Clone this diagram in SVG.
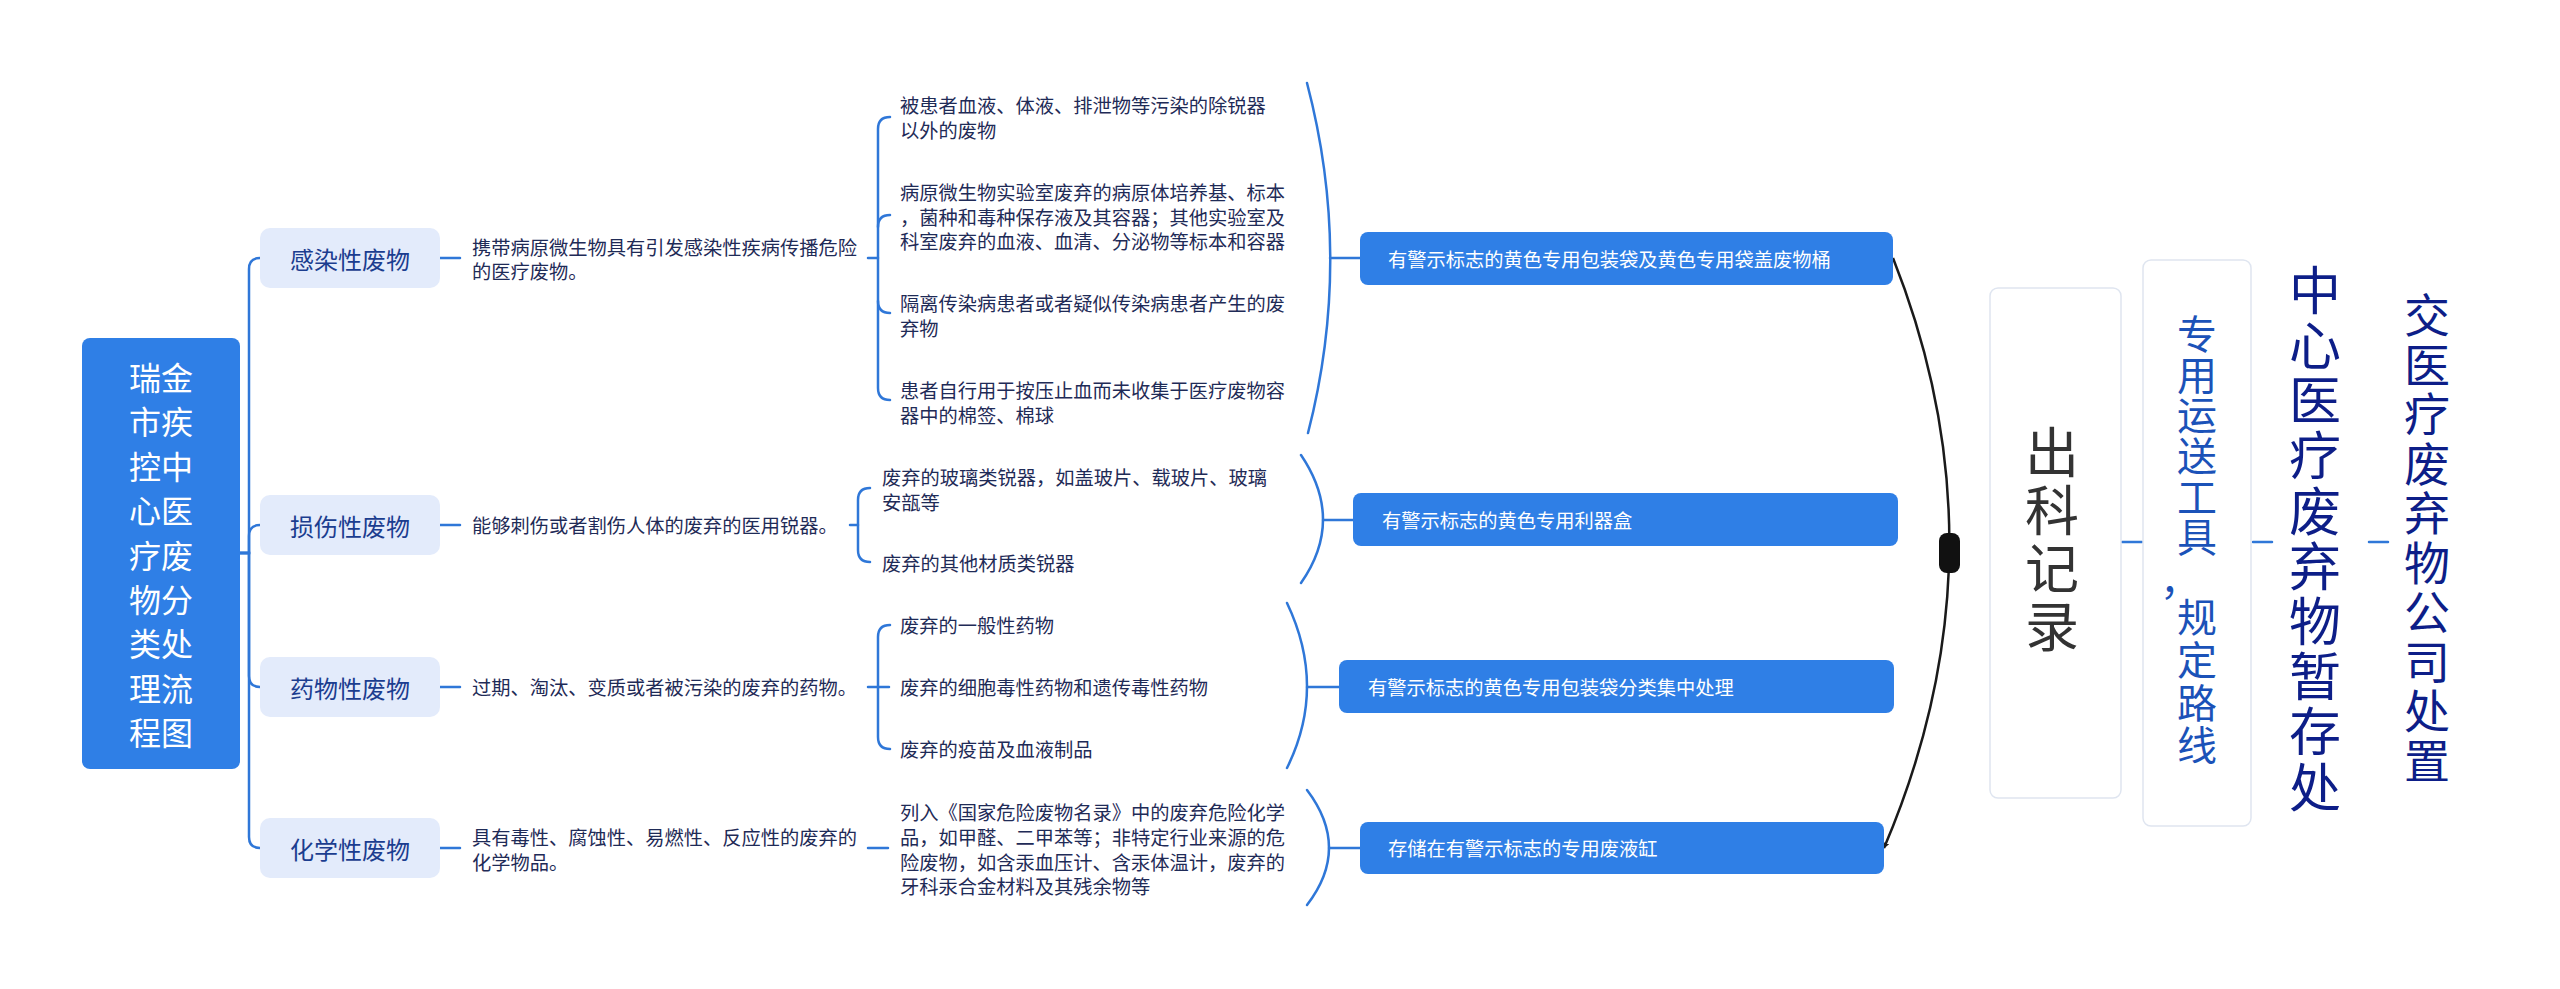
<svg xmlns="http://www.w3.org/2000/svg" width="2560" height="989" viewBox="0 0 2560 989">
<defs>
<style>
text{font-family:"Microsoft YaHei","Noto Sans CJK SC","Noto Sans",sans-serif;dominant-baseline:central}
.ln{fill:none;stroke:#2f77d8;stroke-width:2.5;stroke-linecap:round}
.root{fill:#2f7fe6}
.rootT{fill:#fff;font-size:32px;text-anchor:middle}
.l1{fill:#e3ebfb}
.l1T{fill:#1b3d8f;font-size:24px;text-anchor:middle}
.dT{fill:#1f2b57;font-size:19.25px}
.sum{fill:#2f7fe6}
.sumT{fill:#fff;font-size:19.25px}
.vbox{fill:#fff;stroke:#dfe5f0;stroke-width:1.5}
.vT{writing-mode:vertical-rl;text-orientation:upright}
</style>
<marker id="arr" viewBox="0 0 10 10" refX="9" refY="5" markerWidth="7" markerHeight="7" orient="auto" markerUnits="userSpaceOnUse">
<path d="M0,0 L10,5 L0,10 L3,5 z" fill="#1a1a1a"/>
</marker>
</defs>
<rect width="2560" height="989" fill="#fff"/>

<g id="connectors">
<path class="ln" d="M240,553 H249 V269 Q249,258 260,258"/>
<path class="ln" d="M240,553 H249 V536 Q249,525 260,525"/>
<path class="ln" d="M240,553 H249 V676 Q249,687 260,687"/>
<path class="ln" d="M240,553 H249 V837 Q249,848 260,848"/>
<path class="ln" d="M440,258 H460"/>
<path class="ln" d="M440,525 H460"/>
<path class="ln" d="M440,687 H460"/>
<path class="ln" d="M440,848 H460"/>
<path class="ln" d="M868,258 H878"/>
<path class="ln" d="M890,117 Q878,117 878,129 V388 Q878,400 890,400"/>
<path class="ln" d="M878,227 Q878,215 890,215"/>
<path class="ln" d="M878,301 Q878,313 890,313"/>
<path class="ln" d="M850,525 H858"/>
<path class="ln" d="M870,488 Q858,488 858,500 V550 Q858,562 870,562"/>
<path class="ln" d="M868,687 H889"/>
<path class="ln" d="M890,625 Q878,625 878,637 V737 Q878,749 890,749"/>
<path class="ln" d="M868,848 H888"/>
<path class="ln" d="M1307,83 Q1353,258 1308,433"/>
<path class="ln" d="M1330,258 H1360"/>
<path class="ln" d="M1301,455 Q1345,520 1301,583"/>
<path class="ln" d="M1323,520 H1353"/>
<path class="ln" d="M1287,603 Q1327,687 1287,768"/>
<path class="ln" d="M1307,687 H1339"/>
<path class="ln" d="M1307,790 Q1351,848 1307,905"/>
<path class="ln" d="M1329,848 H1360"/>
<path d="M1893,258 Q2010,553 1884,848" fill="none" stroke="#1a1a1a" stroke-width="2.5" marker-end="url(#arr)"/>
<rect x="1939" y="533" width="21" height="40" rx="8" fill="#111"/>
<path class="ln" d="M2122,542 H2142"/>
<path class="ln" d="M2253,542 H2272"/>
<path class="ln" d="M2369,542 H2388"/>
</g>

<g id="root">
<rect class="root" x="82" y="338" width="158" height="431" rx="8"/>
<text class="rootT">
<tspan x="161" y="376">瑞金</tspan><tspan x="161" y="420">市疾</tspan><tspan x="161" y="464.5">控中</tspan><tspan x="161" y="509">心医</tspan><tspan x="161" y="553.5">疗废</tspan><tspan x="161" y="598">物分</tspan><tspan x="161" y="642">类处</tspan><tspan x="161" y="686.5">理流</tspan><tspan x="161" y="731">程图</tspan>
</text>
</g>

<g id="n-ganran"><rect class="l1" x="260" y="228" width="180" height="60" rx="10"/><text class="l1T" x="350" y="258">感染性废物</text></g>
<g id="n-sunshang"><rect class="l1" x="260" y="495" width="180" height="60" rx="10"/><text class="l1T" x="350" y="525">损伤性废物</text></g>
<g id="n-yaowu"><rect class="l1" x="260" y="657" width="180" height="60" rx="10"/><text class="l1T" x="350" y="687">药物性废物</text></g>
<g id="n-huaxue"><rect class="l1" x="260" y="818" width="180" height="60" rx="10"/><text class="l1T" x="350" y="848">化学性废物</text></g>

<g id="d-ganran"><text class="dT"><tspan x="472" y="246.5">携带病原微生物具有引发感染性疾病传播危险</tspan><tspan x="472" y="271">的医疗废物。</tspan></text></g>
<g id="d-sunshang"><text class="dT" x="472" y="525">能够刺伤或者割伤人体的废弃的医用锐器。</text></g>
<g id="d-yaowu"><text class="dT" x="472" y="687">过期、淘汰、变质或者被污染的废弃的药物。</text></g>
<g id="d-huaxue"><text class="dT"><tspan x="472" y="837">具有毒性、腐蚀性、易燃性、反应性的废弃的</tspan><tspan x="472" y="862">化学物品。</tspan></text></g>

<g id="c-ganran-1"><text class="dT"><tspan x="900" y="105">被患者血液、体液、排泄物等污染的除锐器</tspan><tspan x="900" y="129.5">以外的废物</tspan></text></g>
<g id="c-ganran-2"><text class="dT"><tspan x="900" y="192">病原微生物实验室废弃的病原体培养基、标本</tspan><tspan x="900" y="216.5">，菌种和毒种保存液及其容器；其他实验室及</tspan><tspan x="900" y="241">科室废弃的血液、血清、分泌物等标本和容器</tspan></text></g>
<g id="c-ganran-3"><text class="dT"><tspan x="900" y="303">隔离传染病患者或者疑似传染病患者产生的废</tspan><tspan x="900" y="327.5">弃物</tspan></text></g>
<g id="c-ganran-4"><text class="dT"><tspan x="900" y="390">患者自行用于按压止血而未收集于医疗废物容</tspan><tspan x="900" y="414.5">器中的棉签、棉球</tspan></text></g>

<g id="c-sunshang-1"><text class="dT"><tspan x="882" y="477">废弃的玻璃类锐器，如盖玻片、载玻片、玻璃</tspan><tspan x="882" y="502">安瓿等</tspan></text></g>
<g id="c-sunshang-2"><text class="dT" x="882" y="563">废弃的其他材质类锐器</text></g>

<g id="c-yaowu-1"><text class="dT" x="900" y="625">废弃的一般性药物</text></g>
<g id="c-yaowu-2"><text class="dT" x="900" y="687">废弃的细胞毒性药物和遗传毒性药物</text></g>
<g id="c-yaowu-3"><text class="dT" x="900" y="749">废弃的疫苗及血液制品</text></g>

<g id="c-huaxue-1"><text class="dT"><tspan x="900" y="812">列入《国家危险废物名录》中的废弃危险化学</tspan><tspan x="900" y="837">品，如甲醛、二甲苯等；非特定行业来源的危</tspan><tspan x="900" y="862">险废物，如含汞血压计、含汞体温计，废弃的</tspan><tspan x="900" y="886">牙科汞合金材料及其残余物等</tspan></text></g>

<g id="s-1"><rect class="sum" x="1360" y="232" width="533" height="53" rx="8"/><text class="sumT" x="1388" y="258.5">有警示标志的黄色专用包装袋及黄色专用袋盖废物桶</text></g>
<g id="s-2"><rect class="sum" x="1353" y="493" width="545" height="53" rx="8"/><text class="sumT" x="1382" y="519.5">有警示标志的黄色专用利器盒</text></g>
<g id="s-3"><rect class="sum" x="1339" y="660" width="555" height="53" rx="8"/><text class="sumT" x="1368" y="686.5">有警示标志的黄色专用包装袋分类集中处理</text></g>
<g id="s-4"><rect class="sum" x="1360" y="822" width="524" height="52" rx="8"/><text class="sumT" x="1388" y="848">存储在有警示标志的专用废液缸</text></g>

<g id="n-chuke">
<rect class="vbox" x="1990" y="288" width="131" height="510" rx="8"/>
<text class="vT" x="2052" y="425" fill="#333333" font-size="54" letter-spacing="4">出科记录</text>
</g>
<g id="n-yunsong">
<rect class="vbox" x="2143" y="260" width="108" height="566" rx="8"/>
<text class="vT" x="2197" y="314" fill="#1b52b8" font-size="40" letter-spacing="0.6">专用运送工具</text>
<text x="2180" y="578" fill="#1b52b8" font-size="40" text-anchor="middle">，</text>
<text class="vT" x="2197" y="597" fill="#1b52b8" font-size="40" letter-spacing="2.7">规定路线</text>
</g>
<g id="n-zancun">
<text class="vT" x="2315" y="264" fill="#0d1e88" font-size="52" letter-spacing="3.2">中心医疗废弃物暂存处</text>
</g>
<g id="n-chuzhi">
<text class="vT" x="2427" y="292" fill="#0d1e88" font-size="46" letter-spacing="3.5">交医疗废弃物公司处置</text>
</g>
</svg>
